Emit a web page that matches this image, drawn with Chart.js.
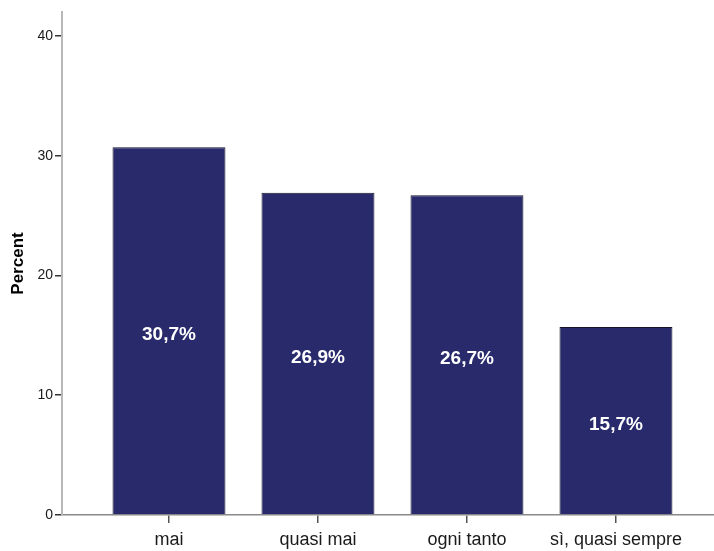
<!DOCTYPE html>
<html>
<head>
<meta charset="utf-8">
<script src="https://cdn.jsdelivr.net/npm/chart.js@4/dist/chart.umd.min.js"></script>
<style>
  html, body { margin: 0; padding: 0; background: #fff; }
  #wrap { width: 714px; height: 551px; }
</style>
</head>
<body>
<div id="wrap"><canvas id="barChart" width="714" height="551"></canvas></div>
<script>
// categories and percent values
const categories = ["mai", "quasi mai", "ogni tanto", "sì, quasi sempre"];
const percents = [30.7, 26.9, 26.7, 15.7];
const yTicks = [0, 10, 20, 30, 40];

const fontFamily = "'Liberation Sans', Arial, sans-serif";

// white percent labels in the middle of each bar
const barLabels = {
  id: "barLabels",
  afterDatasetsDraw(chart) {
    const ctx = chart.ctx;
    const meta = chart.getDatasetMeta(0);
    ctx.save();
    ctx.fillStyle = "#ffffff";
    ctx.font = "bold 19px " + fontFamily;
    ctx.textAlign = "center";
    ctx.textBaseline = "middle";
    meta.data.forEach((bar, i) => {
      const txt = percents[i].toFixed(1).replace(".", ",") + "%";
      ctx.fillText(txt, bar.x, (bar.y + bar.base) / 2 + 4);
    });
    ctx.restore();
  }
};

const ctx = document.getElementById("barChart").getContext("2d");
const chart = new Chart(ctx, {
  type: "bar",
  data: {
    datasets: [{
      label: "Percent",
      data: categories.map((c, i) => ({ x: i, y: percents[i] })),
      backgroundColor: "#282a6c",
      borderColor: "#15152a",
      borderWidth: 1,
      categoryPercentage: 1,
      barPercentage: 0.758
    }]
  },
  options: {
    responsive: false,
    animation: false,
    layout: { padding: { top: 12, right: 0, left: 0, bottom: 0 } },
    plugins: {
      legend: { display: false },
      tooltip: { enabled: false }
    },
    scales: {
      x: {
        type: "linear",
        offset: false,
        min: -0.718,
        max: 3.658,
        afterBuildTicks(scale) {
          scale.ticks = categories.map((c, i) => ({ value: i }));
        },
        afterFit(scale) { scale.height = 36; },
        ticks: {
          autoSkip: false,
          maxRotation: 0,
          padding: 6,
          color: "#1a1a1a",
          font: { family: fontFamily, size: 18 },
          callback: (v) => categories[v]
        },
        grid: { offset: false, drawOnChartArea: false, drawTicks: true, tickLength: 8, color: "#555", lineWidth: 1.5 },
        border: { color: "#8a8a8a", width: 1.5 }
      },
      y: {
        min: 0,
        max: 42,
        afterBuildTicks(scale) {
          scale.ticks = yTicks.map(v => ({ value: v }));
        },
        afterFit(scale) { scale.width = 62; },
        ticks: {
          padding: 2,
          color: "#1a1a1a",
          font: { family: fontFamily, size: 14 }
        },
        title: {
          display: true,
          text: "Percent",
          color: "#000",
          padding: { top: 8, bottom: 0 },
          font: { family: fontFamily, size: 17, weight: "bold" }
        },
        grid: { drawOnChartArea: false, drawTicks: true, tickLength: 7, color: "#333", lineWidth: 1.5 },
        border: { color: "#b8b8b8", width: 2 }
      }
    }
  },
  plugins: [barLabels]
});
</script>
</body>
</html>
